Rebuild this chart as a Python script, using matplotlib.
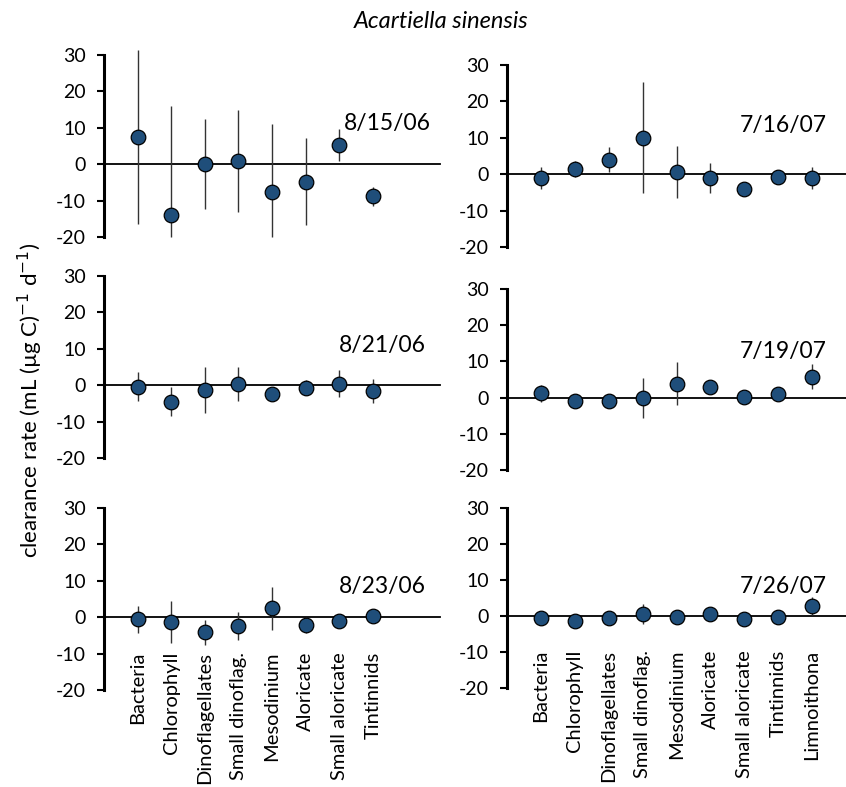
import matplotlib
matplotlib.use("Agg")
import matplotlib.pyplot as plt
import numpy as np

plt.rcParams['font.family'] = ['Lato', 'DejaVu Sans']

cats8 = ["Bacteria", "Chlorophyll", "Dinoflagellates", "Small dinoflag.",
         "Mesodinium", "Aloricate", "Small aloricate", "Tintinnids"]
cats9 = cats8 + ["Limnoithona"]

# 2006 dates (left column)
d0815_val = [7.5, -14.0, 0.1, 1.0, -7.6, -4.8, 5.3, -8.8]
d0815_err = [24.0, 30.0, 12.4, 14.0, 18.6, 11.9, 4.3, 2.6]
d0821_val = [-0.4, -4.5, -1.3, 0.3, -2.5, -0.7, 0.4, -1.6]
d0821_err = [3.9, 4.0, 6.2, 4.7, 1.5, 2.0, 3.7, 3.3]
d0823_val = [-0.6, -1.4, -4.2, -2.5, 2.4, -2.2, -1.1, 0.4]
d0823_err = [3.7, 5.8, 3.5, 3.9, 6.0, 2.2, 1.0, 1.0]

# 2007 dates (right column)
d0716_val = [-1.0, 1.4, 4.0, 10.0, 0.6, -1.0, -4.2, -0.9, -1.0]
d0716_err = [3.0, 2.3, 3.5, 15.3, 7.2, 4.1, 0.8, 1.0, 3.0]
d0719_val = [1.2, -0.9, -0.9, -0.2, 3.8, 2.9, 0.3, 1.0, 5.8]
d0719_err = [2.4, 0.7, 0.7, 5.5, 5.9, 0.8, 0.5, 0.7, 3.5]
d0726_val = [-0.5, -1.4, -0.6, 0.6, -0.3, 0.6, -0.8, -0.2, 2.9]
d0726_err = [0.5, 0.8, 0.8, 2.7, 0.5, 1.0, 0.8, 0.5, 2.5]

yticks = [-20, -10, 0, 10, 20, 30]

W, H = 846, 787
fig = plt.figure(figsize=(W / 100, H / 100), dpi=100)

def rect(x0, x1, ytop, ybot):
    return [x0 / W, 1 - ybot / H, (x1 - x0) / W, (ybot - ytop) / H]

panels = [
    (rect(104, 440, 55, 237), cats8, d0815_val, d0815_err, "8/15/06", (8.43, 11.3), False),
    (rect(104, 440, 276, 458), cats8, d0821_val, d0821_err, "8/21/06", (8.29, 11.0), False),
    (rect(104, 440, 508, 690), cats8, d0823_val, d0823_err, "8/23/06", (8.29, 8.5), True),
    (rect(507, 846, 65, 247), cats9, d0716_val, d0716_err, "7/16/07", (8.14, 13.4), False),
    (rect(507, 846, 289, 470), cats9, d0719_val, d0719_err, "7/19/07", (8.14, 12.7), False),
    (rect(507, 846, 508, 688), cats9, d0726_val, d0726_err, "7/26/07", (8.14, 8.3), True),
]

for r, cats, vals, errs, label, (lx, ly), showx in panels:
    ax = fig.add_axes(r)
    ax.set_xlim(0, 10)
    ax.set_ylim(-20, 30)
    x = np.arange(1, len(cats) + 1)
    ax.axhline(0, color='black', lw=1.3, zorder=1, clip_on=False)
    ax.errorbar(x, vals, yerr=errs, fmt='o', color='#1f4e7a',
                markersize=10.5, markeredgecolor='black', markeredgewidth=0.9,
                ecolor='#333333', elinewidth=1.0, capsize=0, zorder=3)
    ax.set_ylim(-20, 30)
    for s in ['top', 'right', 'bottom']:
        ax.spines[s].set_visible(False)
    ax.spines['left'].set_linewidth(2.2)
    ax.set_yticks(yticks)
    ax.set_yticklabels([str(t) for t in yticks], fontsize=14)
    ax.tick_params(axis='y', direction='out', length=5, width=1.5, pad=8)
    if showx:
        ax.set_xticks(x)
        ax.set_xticklabels(cats, rotation=90, fontsize=14.5, va='top')
        ax.tick_params(axis='x', length=0, pad=-27.5)
    else:
        ax.set_xticks([])
    ax.text(lx, ly, label, fontsize=16.5, ha='center', va='center')
    ax.patch.set_alpha(0)

# Top-left panel: error bars may extend slightly beyond 30 (up to ~32) as in the reference
ax0 = fig.axes[0]
for c in ax0.collections:
    c.set_clip_on(False)
    new = []
    for s in c.get_segments():
        s = np.array(s)
        s[:, 1] = np.clip(s[:, 1], -20, 32)
        new.append(s)
    c.set_segments(new)

fig.text(441 / W, 1 - 22 / H, "Acartiella sinensis", fontsize=17, style='italic',
         ha='center', va='center')
fig.text(30 / W, 1 - 400 / H, "clearance rate (mL (µg C)$^{-1}$ d$^{-1}$)",
         fontsize=16, rotation=90, ha='center', va='center')

fig.savefig("out.png", dpi=100)
